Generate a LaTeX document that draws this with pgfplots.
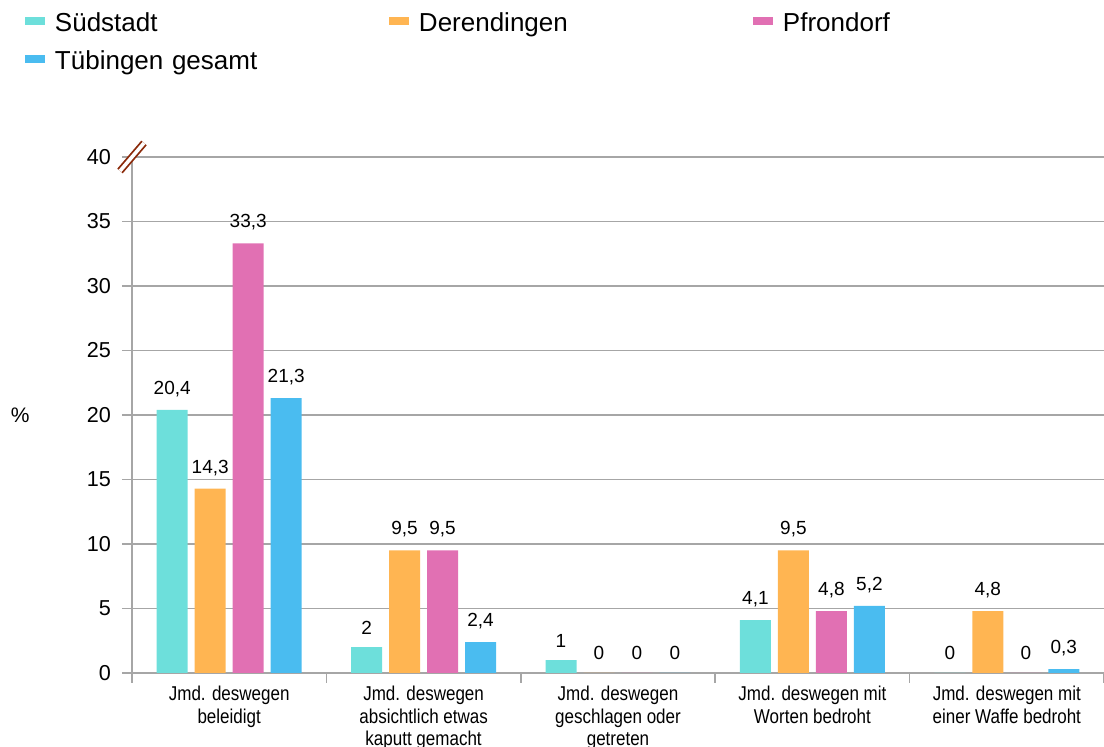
\documentclass[border=0pt]{standalone}
\usepackage{pgfplots}
\pgfplotsset{compat=1.18}
\usepackage{fontspec}
\setmainfont{Liberation Sans}
\newfontfamily\catfont[FakeStretch=0.85]{Liberation Sans}
\definecolor{cSued}{HTML}{6DDFDB}
\definecolor{cDer}{HTML}{FFB552}
\definecolor{cPfr}{HTML}{E170B3}
\definecolor{cTue}{HTML}{4ABCF0}
\definecolor{cGrid}{HTML}{A6A6A6}
\definecolor{cBreak}{HTML}{8B2A0A}
\begin{document}
\begin{tikzpicture}
\begin{axis}[
  at={(0,0)}, anchor=south west,
  scale only axis, width=486pt, height=258pt,
  xmin=-0.5, xmax=4.5, ymin=0, ymax=40,
  ybar=3.5pt, bar width=15.5pt,
  axis lines*=left,
  axis line style={cGrid, line width=0.8pt},
  ytick={0,5,...,40},
  ymajorgrids, grid style={cGrid, line width=0.8pt},
  tick align=outside,
  major tick length=5pt,
  minor tick length=5pt,
  ytick style={cGrid, line width=0.8pt},
  xtick={0,1,2,3,4},
  every major x tick/.append style={draw=none},
  minor xtick={-0.5,0.5,1.5,2.5,3.5,4.5},
  minor x tick style={cGrid, line width=0.8pt},
  xticklabels={{Jmd. deswegen\\beleidigt},{Jmd. deswegen\\absichtlich etwas\\kaputt gemacht},{Jmd. deswegen\\geschlagen oder\\getreten},{Jmd. deswegen mit\\Worten bedroht},{Jmd. deswegen mit\\einer Waffe bedroht}},
  xticklabel style={align=center, font=\catfont\fontsize{10}{11.2}\selectfont, inner sep=0pt, yshift=-1.5pt},
  yticklabel style={font=\fontsize{10.8}{12}\selectfont, xshift=-2pt},
  /pgf/number format/assume math mode=true,
  ylabel={\%},
  ylabel style={rotate=-90, at={(axis description cs:-0.115,0.5)}, anchor=center, font=\fontsize{10.5}{12}\selectfont},
  nodes near coords,
  nodes near coords style={font=\fontsize{9.5}{11}\selectfont, yshift=3pt},
  every node near coord/.append style={/pgf/number format/use comma, /pgf/number format/fixed, /pgf/number format/precision=1},
  legend columns=3,
  legend cell align=left,
  legend style={draw=none, fill=none, at={(axis description cs:-0.1105,1.2884)}, anchor=north west,
     font=\fontsize{13}{15.6}\selectfont, inner sep=0pt, row sep=4pt,
     nodes={text width=162pt, inner ysep=2pt, inner xsep=5pt}},
  legend image code/.code={\fill[#1] (0pt,-1pt) rectangle (10pt,3pt);},
  clip=false,
]
\addplot[fill=cSued, draw=none] coordinates {(0,20.4) (1,2) (2,1) (3,4.1) (4,0)};
\addplot[fill=cDer, draw=none] coordinates {(0,14.3) (1,9.5) (2,0) (3,9.5) (4,4.8)};
\addplot[fill=cPfr, draw=none] coordinates {(0,33.3) (1,9.5) (2,0) (3,4.8) (4,0)};
\addplot[fill=cTue, draw=none] coordinates {(0,21.3) (1,2.4) (2,0) (3,5.2) (4,0.3)};
\legend{Südstadt, Derendingen, Pfrondorf, Tübingen gesamt}
\draw[cBreak, line width=0.9pt, double=white, double distance=1.8pt] (rel axis cs:0,1) ++(-6pt,-7pt) -- ++(12pt,14pt);
\end{axis}
\pgfresetboundingbox
\useasboundingbox (-66pt,-37pt) rectangle (486pt,336.5pt);
\end{tikzpicture}
\end{document}
